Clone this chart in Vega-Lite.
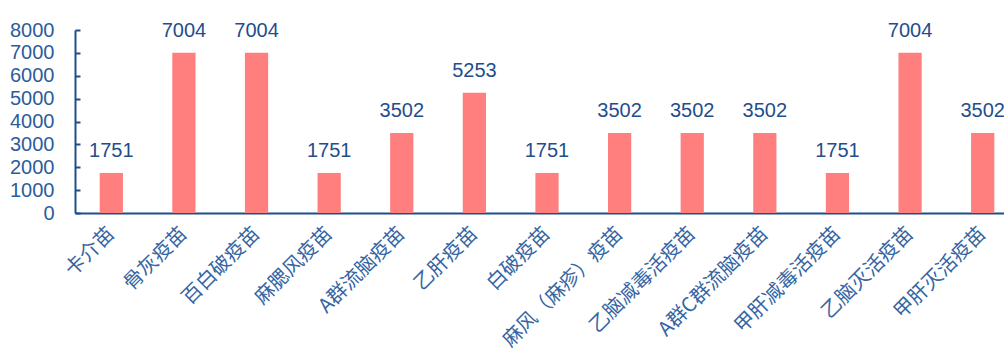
{
  "$schema": "https://vega.github.io/schema/vega-lite/v6.json",
  "width": 944,
  "height": 183,
  "autosize": {"type": "none"},
  "padding": {"left": 75, "top": 30, "right": 0, "bottom": 143},
  "background": "white",
  "data": {
    "values": [
      {"name": "卡介苗", "value": 1751},
      {"name": "骨灰疫苗", "value": 7004},
      {"name": "百白破疫苗", "value": 7004},
      {"name": "麻腮风疫苗", "value": 1751},
      {"name": "A群流脑疫苗", "value": 3502},
      {"name": "乙肝疫苗", "value": 5253},
      {"name": "白破疫苗", "value": 1751},
      {"name": "麻风（麻疹）疫苗", "value": 3502},
      {"name": "乙脑减毒活疫苗", "value": 3502},
      {"name": "A群C群流脑疫苗", "value": 3502},
      {"name": "甲肝减毒活疫苗", "value": 1751},
      {"name": "乙脑灭活疫苗", "value": 7004},
      {"name": "甲肝灭活疫苗", "value": 3502}
    ]
  },
  "config": {"view": {"stroke": null}},
  "encoding": {
    "x": {
      "field": "name", "type": "nominal", "sort": null,
      "scale": {"paddingInner": 0.68, "paddingOuter": 0.34},
      "axis": {
        "title": null, "labelAngle": -45, "labelAlign": "right", "labelBaseline": "middle",
        "labelFont": "Noto Sans CJK SC", "labelFontSize": 20, "labelColor": "#3565A3",
        "labelPadding": 17, "ticks": false, "domainColor": "#1F4E8C", "domainWidth": 2,
        "labelOverlap": false, "labelLimit": 400
      }
    },
    "y": {
      "field": "value", "type": "quantitative",
      "scale": {"domain": [0, 8000], "nice": false},
      "axis": {
        "title": null, "values": [0,1000,2000,3000,4000,5000,6000,7000,8000],
        "grid": false, "format": "d",
        "labelFont": "Liberation Sans", "labelFontSize": 20, "labelColor": "#2B5C9B",
        "domainColor": "#1F4E8C", "domainWidth": 2, "tickColor": "#1F4E8C", "tickWidth": 2,
        "tickSize": -5, "labelPadding": 26
      }
    }
  },
  "layer": [
    {"mark": {"type": "bar", "color": "#FF7F7F"}},
    {
      "mark": {"type": "text", "dy": -16, "baseline": "alphabetic", "font": "Liberation Sans", "fontSize": 20, "color": "#1F4E8C"},
      "encoding": {"text": {"field": "value", "type": "quantitative", "format": "d"}}
    }
  ]
}
